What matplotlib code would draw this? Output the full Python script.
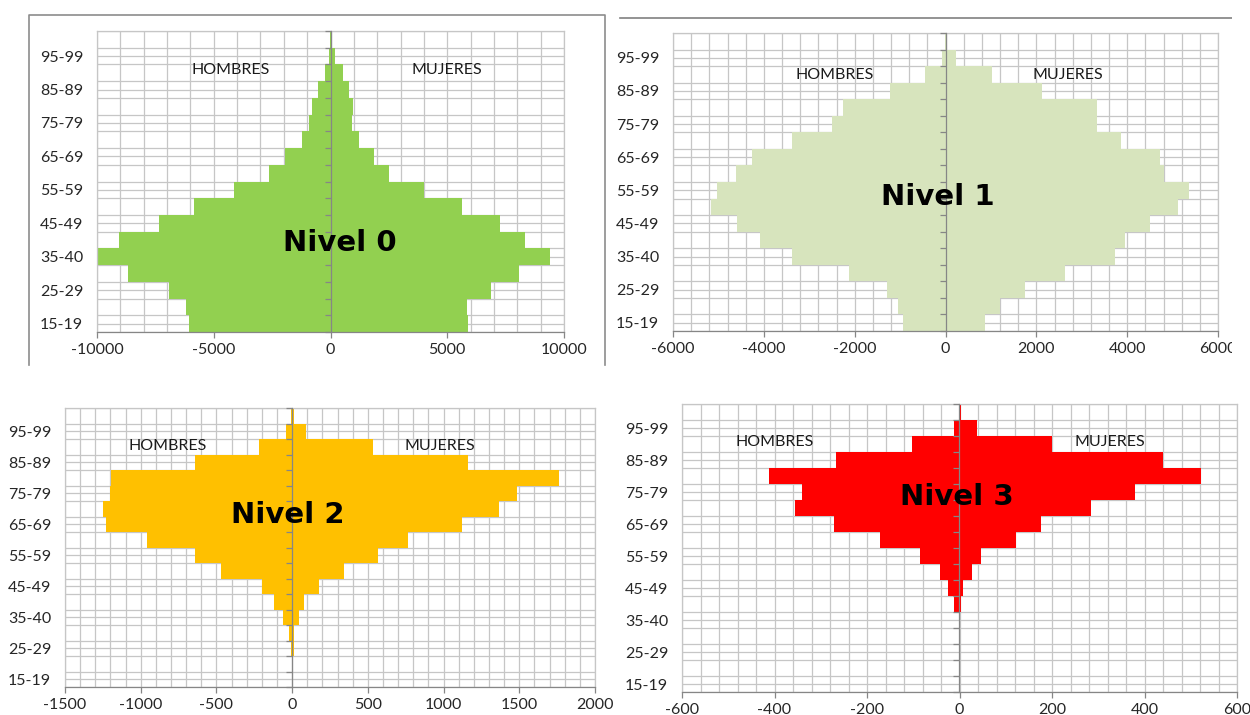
import matplotlib.pyplot as plt
from matplotlib.lines import Line2D
from matplotlib.patches import Rectangle
import numpy as np

# grupos de edad (de abajo hacia arriba)
edades = ['15-19', '20-24', '25-29', '30-34', '35-40', '40-44', '45-49', '50-54', '55-59',
          '60-64', '65-69', '70-74', '75-79', '80-84', '85-89', '90-94', '95-99', '100+']

hombres_0 = [-6060, -6180, -6900, -8680, -9980, -9040, -7330, -5840, -4130,
             -2640, -1930, -1200, -930, -800, -540, -250, -80, -30]
mujeres_0 = [5890, 5840, 6870, 8070, 9420, 8340, 7260, 5630, 4010,
             2520, 1860, 1220, 930, 960, 810, 520, 190, 50]

hombres_1 = [-940, -1050, -1280, -2130, -3370, -4090, -4580, -5160, -5040,
             -4610, -4270, -3380, -2490, -2250, -1220, -460, -70, -10]
mujeres_1 = [870, 1190, 1750, 2640, 3730, 3960, 4500, 5120, 5360,
             4810, 4730, 3860, 3330, 3330, 2130, 1030, 240, 10]

hombres_2 = [-3, -3, -5, -20, -60, -118, -202, -471, -641,
             -958, -1228, -1249, -1204, -1199, -639, -217, -39, -5]
mujeres_2 = [3, 3, 10, 14, 47, 79, 175, 343, 565,
             764, 1123, 1369, 1484, 1764, 1160, 531, 94, 12]

hombres_3 = [0, 0, 0, 0, -1, -12, -25, -43, -85,
             -171, -272, -356, -340, -411, -267, -102, -12, -1]
mujeres_3 = [0, 0, 2, 0, 2, 3, 7, 28, 47,
             122, 177, 284, 380, 522, 441, 199, 37, 3]

titulos = ['Nivel 0', 'Nivel 1', 'Nivel 2', 'Nivel 3']
colores = ['#92D050', '#D7E4BD', '#FFC000', '#FF0000']
limites = [(-10000, 10000), (-6000, 6000), (-1500, 2000), (-600, 600)]
paso_mayor = [5000, 2000, 500, 200]
paso_menor = [1000, 400, 100, 40]

W, H = 1250, 715
GRIS = '#C6C6C6'
EJE = '#868686'


def caja(l, t, r, b):
    return [l / W, 1 - b / H, (r - l) / W, (b - t) / H]


def piramide(ax, hombres, mujeres, color, lim, mayor, menor, titulo, p_h, p_m, p_n):
    y = np.arange(len(edades))
    ax.barh(y, hombres, height=1.0, color=color, linewidth=0, zorder=2)
    ax.barh(y, mujeres, height=1.0, color=color, linewidth=0, zorder=2)
    ax.set_xlim(*lim)
    ax.set_ylim(-0.5, len(edades) - 0.5)

    xt = np.arange(lim[0], lim[1] + 1, mayor)
    ax.set_xticks(xt)
    ax.set_xticklabels([f'{int(v)}' for v in xt])
    ax.set_xticks(np.arange(lim[0], lim[1] + 1, menor), minor=True)
    ax.set_yticks(y[::2])
    ax.set_yticklabels(edades[::2])
    ax.set_yticks(np.arange(-0.5, len(edades)), minor=True)

    ax.grid(True, which='both', color=GRIS, linewidth=0.9)
    ax.set_axisbelow(True)
    ax.tick_params(axis='y', which='both', length=0, pad=10, labelsize=11.5, labelcolor='#262626')
    ax.tick_params(axis='x', which='minor', length=0)
    ax.tick_params(axis='x', which='major', length=4, color=EJE, width=0.9, pad=4,
                   labelsize=11.5, labelcolor='#262626')
    for s in ['left', 'top', 'right']:
        ax.spines[s].set_color(GRIS)
        ax.spines[s].set_linewidth(0.9)
    ax.spines['bottom'].set_color(EJE)
    ax.spines['bottom'].set_linewidth(0.9)

    # eje vertical en x=0 con marcas entre categorias
    eje = ax.secondary_yaxis((0 - lim[0]) / (lim[1] - lim[0]))
    eje.set_alignment('left')
    eje.set_yticks(np.arange(-0.5, len(edades)))
    eje.set_yticklabels([])
    eje.tick_params(length=4, color=EJE, width=0.9)
    eje.spines['left'].set_color(EJE)
    eje.spines['left'].set_linewidth(0.9)
    eje.set_zorder(3)

    ax.text(p_h[0], p_h[1], 'HOMBRES', transform=ax.transAxes, ha='center', va='center',
            fontsize=11.5, color='#1a1a1a', zorder=4)
    ax.text(p_m[0], p_m[1], 'MUJERES', transform=ax.transAxes, ha='center', va='center',
            fontsize=11.5, color='#1a1a1a', zorder=4)
    ax.text(p_n[0], p_n[1], titulo, transform=ax.transAxes, ha='center', va='center',
            fontsize=21, fontweight='bold', family='DejaVu Sans', color='black', zorder=4)


plt.rcParams['font.family'] = ['Lato', 'DejaVu Sans']

fig = plt.figure(figsize=(W / 100, H / 100), dpi=100)

posiciones = [caja(97, 31, 564, 332), caja(673, 33, 1218, 331),
              caja(65, 408, 595, 687), caja(682, 404, 1237, 692)]
textos = [((0.287, 0.870), (0.749, 0.870), (0.52, 0.296)),
          ((0.297, 0.859), (0.725, 0.859), (0.486, 0.45)),
          ((0.194, 0.864), (0.708, 0.864), (0.42, 0.616)),
          ((0.167, 0.868), (0.77, 0.868), (0.495, 0.677))]
datos = [(hombres_0, mujeres_0), (hombres_1, mujeres_1),
         (hombres_2, mujeres_2), (hombres_3, mujeres_3)]

for i in range(4):
    ax = fig.add_axes(posiciones[i])
    piramide(ax, datos[i][0], datos[i][1], colores[i], limites[i], paso_mayor[i],
             paso_menor[i], titulos[i], *textos[i])

# marcos de la captura
fig.add_artist(Line2D([29 / W, 29 / W, 605 / W, 605 / W],
                      [1 - 365 / H, 1 - 15 / H, 1 - 15 / H, 1 - 365 / H],
                      transform=fig.transFigure, color='#8c8c8c', linewidth=1.2))
fig.add_artist(Line2D([620 / W, 1232 / W], [1 - 18 / H, 1 - 18 / H],
                      transform=fig.transFigure, color='#808080', linewidth=1.2))
fig.add_artist(Rectangle((1232 / W, 1 - 385 / H), 18 / W, 385 / H, transform=fig.transFigure,
                         facecolor='white', edgecolor='none', zorder=10))

fig.savefig('out.png', dpi=100)
